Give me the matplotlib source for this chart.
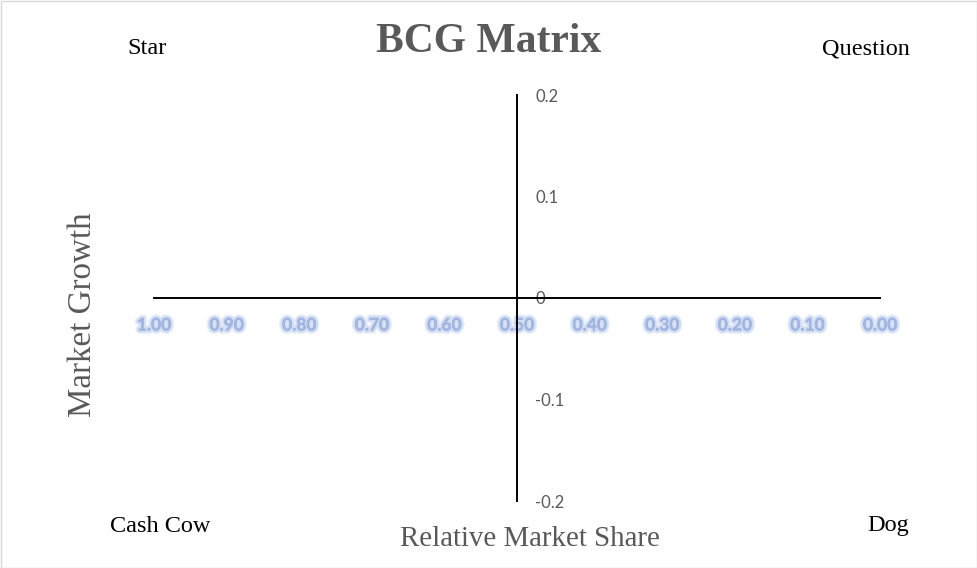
import matplotlib
matplotlib.use("Agg")
import matplotlib.pyplot as plt
import matplotlib.ticker as ticker
import matplotlib.patheffects as pe
from matplotlib.patches import Rectangle

# chart content
title = "BCG Matrix"
x_label = "Relative Market Share"
y_label = "Market Growth"
x_ticks = [1.0, 0.9, 0.8, 0.7, 0.6, 0.5, 0.4, 0.3, 0.2, 0.1, 0.0]
x_tick_labels = ["1.00", "0.90", "0.80", "0.70", "0.60", "0.50", "0.40", "0.30", "0.20", "0.10", "0.00"]
y_ticks = [0.2, 0.1, 0.0, -0.1, -0.2]
y_tick_labels = ["0.2", "0.1", "0", "-0.1", "-0.2"]
x_cross = 0.5
y_cross = 0.0
quadrants = ["Star", "Question", "Cash Cow", "Dog"]

W, H = 977, 568
fig = plt.figure(figsize=(W/100, H/100), dpi=100)
fig.patch.set_facecolor("white")
fig.add_artist(Rectangle((0.5/W, 0.5/H), 1-1/W, 1-1/H, transform=fig.transFigure,
                         fill=False, ec="#d9d9d9", lw=1))

ax = fig.add_axes([154/W, 1-501/H, (880-154)/W, (501-95)/H])
ax.set_xlim(1.0, 0.0)
ax.set_ylim(-0.2, 0.2)
ax.patch.set_alpha(0)

for s in ["top", "left"]:
    ax.spines[s].set_visible(False)
ax.spines["bottom"].set_position(("data", y_cross))
ax.spines["right"].set_position(("data", x_cross))
for s in ["bottom", "right"]:
    ax.spines[s].set_color("black")
    ax.spines[s].set_linewidth(1.4)

ax.yaxis.tick_right()
ax.xaxis.set_major_locator(ticker.FixedLocator(x_ticks))
ax.xaxis.set_major_formatter(ticker.FixedFormatter(x_tick_labels))
ax.yaxis.set_major_locator(ticker.FixedLocator(y_ticks))
ax.yaxis.set_major_formatter(ticker.FixedFormatter(y_tick_labels))
ax.tick_params(axis="both", length=0)
ax.tick_params(axis="y", pad=13, labelsize=12, labelcolor="#595959")
ax.tick_params(axis="x", pad=14, labelsize=12.5, labelcolor="#a0b5e2")
for lab in ax.get_yticklabels():
    lab.set_fontfamily("Lato")
for lab in ax.get_xticklabels():
    lab.set_fontfamily("Lato")
    lab.set_fontweight("bold")
    lab.set_path_effects([
        pe.withStroke(linewidth=5, foreground="#c9d6f0", alpha=0.35),
        pe.withStroke(linewidth=3, foreground="#c3d1ee", alpha=0.6),
        pe.Normal()])

serif = "Liberation Serif"
fig.text(489/W, 1-42/H, title, ha="center", va="center", fontsize=30,
         fontweight="bold", family=serif, color="#595959")
fig.text(530/W, 1-539/H, x_label, ha="center", va="center", fontsize=20.8,
         family=serif, color="#595959")
fig.text(83/W, 1-315/H, y_label, ha="center", va="center", fontsize=23.8,
         family=serif, color="#595959", rotation=90)

quad_pos = [(147, 48), (866, 49), (160, 526), (888, 526)]
for name, (px, py) in zip(quadrants, quad_pos):
    fig.text(px/W, 1-py/H, name, ha="center", va="center", fontsize=17.5,
             family=serif, color="black")

fig.savefig("out.png", dpi=100)
